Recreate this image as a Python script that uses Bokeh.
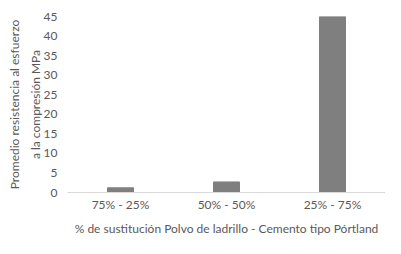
from bokeh.plotting import figure
from bokeh.models import Range1d, FixedTicker
from bokeh.embed import file_html
from bokeh.resources import INLINE

categories = ["75% - 25%", "50% - 50%", "25% - 75%"]
values = [1.2, 2.7, 45.0]
y_ticks = [0, 5, 10, 15, 20, 25, 30, 35, 40, 45]

FONT = "Lato"
TXT = "#595959"

p = figure(x_range=categories, y_range=Range1d(0, 45), width=385, height=238,
           output_backend="svg", toolbar_location=None,
           min_border_left=67, min_border_right=0, min_border_top=16, min_border_bottom=44)
p.vbar(x=categories, top=values, width=0.245, color="#7f7f7f")

p.outline_line_color = None
p.xgrid.grid_line_color = None
p.ygrid.grid_line_color = None

p.yaxis.ticker = FixedTicker(ticks=y_ticks)
p.yaxis.axis_line_color = None
p.yaxis.major_tick_line_color = None
p.yaxis.minor_tick_line_color = None
p.yaxis.major_tick_out = 0
p.yaxis.major_tick_in = 0
p.yaxis.minor_tick_out = 0
p.yaxis.major_label_text_font = FONT
p.yaxis.major_label_text_font_size = "12px"
p.yaxis.major_label_text_color = TXT
p.yaxis.major_label_standoff = 10
p.yaxis.axis_label = "Promedio resistencia al esfuerzo\na la compresión MPa"
p.yaxis.axis_label_text_font = FONT
p.yaxis.axis_label_text_font_size = "12px"
p.yaxis.axis_label_text_font_style = "normal"
p.yaxis.axis_label_text_color = TXT
p.yaxis.axis_label_text_line_height = 1.35
p.yaxis.axis_label_standoff = -2

p.xaxis.axis_line_color = "#d9d9d9"
p.xaxis.major_tick_line_color = None
p.xaxis.minor_tick_line_color = None
p.xaxis.major_tick_out = 0
p.xaxis.major_tick_in = 0
p.xaxis.minor_tick_out = 0
p.xaxis.major_label_text_font = FONT
p.xaxis.major_label_text_font_size = "12px"
p.xaxis.major_label_text_color = TXT
p.xaxis.major_label_standoff = 4
p.xaxis.axis_label = "% de sustitución Polvo de ladrillo - Cemento tipo Pórtland"
p.xaxis.axis_label_text_font = FONT
p.xaxis.axis_label_text_font_size = "12px"
p.xaxis.axis_label_text_font_style = "normal"
p.xaxis.axis_label_text_color = TXT
p.xaxis.axis_label_standoff = 6

open("out.html", "w").write(file_html(p, INLINE))
